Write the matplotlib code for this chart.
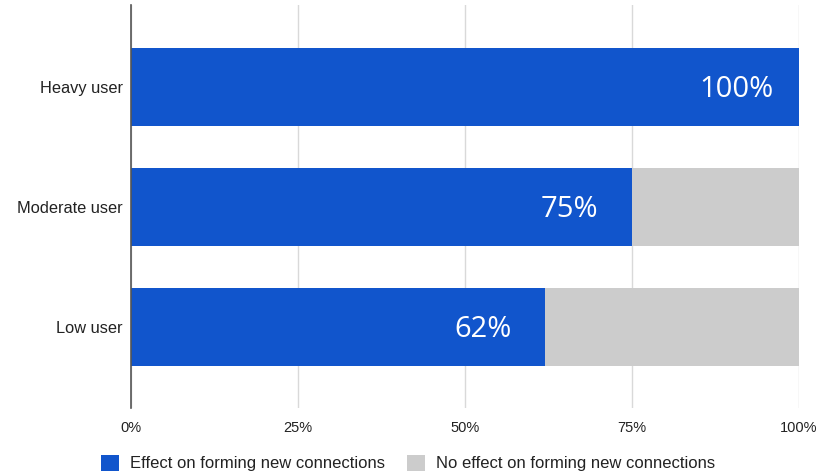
import matplotlib.pyplot as plt
import numpy as np

# ---------- Data ----------
categories = ["Low user", "Moderate user", "Heavy user"]
effect = [62, 75, 100]
no_effect = [38, 25, 0]
value_labels = ["62%", "75%", "100%"]
tick_vals = [0, 25, 50, 75, 100]
tick_labels = ["0%", "25%", "50%", "75%", "100%"]

BLUE = "#1155cc"
GREY = "#cccccc"

fig = plt.figure(figsize=(8.33, 4.73), dpi=100)
ax = fig.add_axes([131 / 833, 1 - 408 / 473, 668 / 833, 403 / 473])

y = np.arange(len(categories))
bar_h = 0.65
ax.barh(y, effect, height=bar_h, color=BLUE, zorder=3,
        label="Effect on forming new connections")
ax.barh(y, no_effect, left=effect, height=bar_h, color=GREY, zorder=3,
        label="No effect on forming new connections")

# value labels inside the blue bars
for yi, v, lab in zip(y, effect, value_labels):
    ax.annotate(lab, xy=(v, yi), xytext=(-45, -2), textcoords="offset points",
                ha="center", va="center", color="white", fontsize=21,
                family="Open Sans")

ax.set_xlim(0, 100)
ax.set_ylim(-0.675, 2.683)
ax.set_xticks(tick_vals)
ax.set_xticklabels(tick_labels, family="Liberation Sans", fontsize=10.5, color="#222222")
ax.set_yticks(y)
ax.set_yticklabels(categories, family="Liberation Sans", fontsize=11.8, color="#222222")
ax.tick_params(length=0)
ax.tick_params(axis="y", pad=6)
ax.tick_params(axis="x", pad=9)

ax.grid(axis="x", color="#d9d9d9", linewidth=1, zorder=0)
for s in ["top", "right", "bottom"]:
    ax.spines[s].set_visible(False)
ax.spines["left"].set_color("#555555")
ax.spines["left"].set_linewidth(1.2)
ax.spines["left"].set_zorder(4)

leg = fig.legend(loc="center", bbox_to_anchor=(408 / 833, 1 - 463 / 473), ncol=2,
                 frameon=False, handlelength=1.1, handleheight=1.1,
                 handletextpad=0.65, columnspacing=1.3,
                 prop={"family": "Liberation Sans", "size": 12})
for t in leg.get_texts():
    t.set_color("#222222")

fig.savefig("out.png", dpi=100)
